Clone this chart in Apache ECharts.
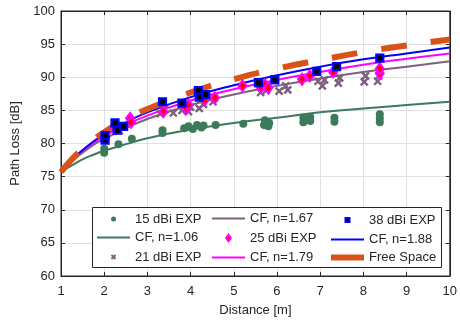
<!DOCTYPE html>
<html>
<head>
<meta charset="utf-8">
<script src="https://cdn.jsdelivr.net/npm/echarts@6/dist/echarts.min.js"></script>
<style>
  html, body { margin: 0; padding: 0; background: #fff; }
  #chart { width: 460px; height: 322px; }
</style>
</head>
<body>
<div id="chart"></div>
<script>
// distances for the fitted curves [m]
const distM = [1, 1.25, 1.5, 1.75, 2, 2.5, 3, 4, 5, 6, 7, 8, 9, 10];
// close-in fits [dB]
const cf106 = [75.7, 76.7, 77.6, 78.3, 78.9, 79.9, 80.8, 82.1, 83.1, 83.9, 84.7, 85.3, 85.8, 86.3];
const cf167 = [75.7, 77.3, 78.6, 79.8, 80.7, 82.3, 83.7, 85.8, 87.4, 88.7, 89.8, 90.8, 91.6, 92.4];
const cf179 = [75.7, 77.4, 78.9, 80.1, 81.1, 82.8, 84.2, 86.5, 88.2, 89.6, 90.8, 91.9, 92.8, 93.6];
const cf188 = [75.7, 77.5, 79.0, 80.3, 81.4, 83.2, 84.7, 87.0, 88.8, 90.3, 91.6, 92.7, 93.6, 94.5];
const freeSpace = [75.7, 77.6, 79.2, 80.6, 81.7, 83.7, 85.2, 87.7, 89.7, 91.3, 92.6, 93.8, 94.8, 95.7];

// measured points [distance, path loss]
const exp15 = [[2.0, 78.6], [2.0, 79.2], [2.33, 79.9], [2.64, 80.7], [3.35, 81.6], [3.35, 82.0],
  [3.85, 82.3], [3.95, 82.6], [4.05, 82.2], [4.15, 82.8], [4.25, 82.4], [4.3, 82.7], [4.58, 82.8],
  [5.22, 83.0], [5.7, 82.8], [5.72, 83.5], [5.82, 83.1], [5.8, 82.6], [6.61, 83.2], [6.61, 83.9],
  [6.77, 83.4], [6.77, 84.0], [7.33, 83.3], [7.33, 83.9], [8.38, 83.2], [8.38, 83.8], [8.38, 84.4]];
const exp21 = [[2.0, 80.7], [2.05, 81.4], [2.35, 81.9], [2.45, 82.6], [3.3, 84.5], [3.4, 85.1],
  [3.6, 84.6], [3.8, 85.0], [3.95, 84.8], [4.0, 85.5], [4.2, 85.3], [4.3, 85.9], [4.52, 86.3],
  [4.55, 86.9], [5.62, 87.7], [5.65, 88.4], [5.75, 88.0], [6.05, 87.9], [6.2, 88.7], [6.25, 88.1],
  [6.95, 89.4], [7.05, 88.7], [7.1, 89.6], [7.42, 89.1], [7.45, 89.9], [8.02, 89.3], [8.05, 90.2],
  [8.33, 89.4], [8.36, 90.2]];
const exp25 = [[2.0, 81.0], [2.25, 82.3], [2.6, 83.8], [2.62, 83.2], [3.37, 84.8], [3.9, 85.3],
  [3.95, 85.8], [4.33, 86.6], [4.56, 86.9], [5.2, 88.7], [5.62, 88.5], [5.72, 88.9], [5.8, 88.4],
  [6.58, 89.7], [6.76, 90.2], [7.3, 90.8], [8.38, 90.6], [8.38, 91.3]];
const exp38 = [[2.02, 80.5], [2.02, 81.2], [2.25, 83.1], [2.3, 82.0], [2.45, 82.6], [3.35, 86.3],
  [3.8, 86.1], [4.18, 88.0], [4.2, 87.0], [4.35, 87.4], [5.57, 89.2], [5.95, 89.6], [6.92, 90.9],
  [7.38, 91.6], [8.38, 92.9]];

const ink = '#262626';
const font = 'Liberation Sans, Arial, Helvetica, sans-serif';
const pair = (ys) => distM.map((d, i) => [d, ys[i]]);

// small legend markers: padded into a 14x14 box so they stay small
const icoCircle = 'path://M0,0M14,14M7,4.5A2.5,2.5 0 1 1 7,9.5A2.5,2.5 0 1 1 7,4.5Z';
const icoX = 'path://M0,0M14,14M5,5L9,9M9,5L5,9';
const icoDiamond = 'path://M0,0M14,14M7,3.8L9.3,7L7,10.2L4.7,7Z';
const icoSquare = 'path://M0,0M14,14M5,5H9V9H5Z';
// line entries: hide the symbol the line legend icon puts in the middle
const noDot = { itemStyle: { opacity: 0 } };

const chart = echarts.init(document.getElementById('chart'), null, { renderer: 'canvas' });

const axisBase = {
  type: 'value',
  axisLine: { show: true, lineStyle: { color: ink, width: 1 } },
  axisTick: { show: true, inside: true, length: 4, lineStyle: { color: ink } },
};

const lineSeries = (name, ys, color) => ({
  name, type: 'line', data: pair(ys), smooth: true, showSymbol: false, symbol: 'none',
  lineStyle: { color, width: 2 }, itemStyle: { color }, z: 2,
});

const legendBase = {
  orient: 'vertical', top: 212, itemWidth: 33, itemHeight: 14, itemGap: 5, padding: 0, z: 5,
  textStyle: { fontSize: 13, color: ink, fontFamily: font },
};

chart.setOption({
  animation: false,
  textStyle: { fontFamily: font, color: ink },
  grid: { left: 61, right: 10, top: 11, bottom: 45, show: true, borderColor: ink, borderWidth: 1 },
  xAxis: [
    Object.assign({}, axisBase, {
      min: 1, max: 10, interval: 1, position: 'bottom',
      name: 'Distance [m]', nameLocation: 'middle', nameGap: 28,
      nameTextStyle: { fontSize: 13, color: ink, fontFamily: font },
      axisLabel: { fontSize: 13, color: ink, margin: 9, fontFamily: font },
      splitLine: { show: true, lineStyle: { color: '#e0e0e0', width: 1 } },
    }),
    Object.assign({}, axisBase, {
      min: 1, max: 10, interval: 1, position: 'top',
      axisLabel: { show: false }, splitLine: { show: false },
    }),
  ],
  yAxis: [
    Object.assign({}, axisBase, {
      min: 60, max: 100, interval: 5, position: 'left',
      name: 'Path Loss [dB]', nameLocation: 'middle', nameGap: 26,
      nameTextStyle: { fontSize: 13, color: ink, fontFamily: font },
      axisLabel: { fontSize: 13, color: ink, margin: 6, fontFamily: font },
      splitLine: { show: true, lineStyle: { color: '#e0e0e0', width: 1 } },
    }),
    Object.assign({}, axisBase, {
      min: 60, max: 100, interval: 5, position: 'right',
      axisLabel: { show: false }, splitLine: { show: false },
    }),
  ],
  graphic: [{
    type: 'rect', left: 92, top: 207, z: 3,
    shape: { width: 349, height: 60 },
    style: { fill: '#fff', stroke: ink, lineWidth: 1 },
  }],
  legend: [
    Object.assign({}, legendBase, {
      left: 96,
      data: [{ name: '15 dBi EXP', icon: icoCircle }, Object.assign({ name: 'CF, n=1.06' }, noDot),
        { name: '21 dBi EXP', icon: icoX }],
    }),
    Object.assign({}, legendBase, {
      left: 211,
      data: [Object.assign({ name: 'CF, n=1.67' }, noDot), { name: '25 dBi EXP', icon: icoDiamond },
        Object.assign({ name: 'CF, n=1.79' }, noDot)],
    }),
    Object.assign({}, legendBase, {
      left: 328,
      // solid, full-width sample for the dashed free-space curve
      lineStyle: { type: 'solid', width: 'inherit' },
      data: [{ name: '38 dBi EXP', icon: icoSquare }, Object.assign({ name: 'CF, n=1.88' }, noDot),
        Object.assign({ name: 'Free Space' }, noDot)],
    }),
  ],
  series: [
    {
      name: '15 dBi EXP', type: 'scatter', data: exp15, symbol: 'circle', symbolSize: 8,
      itemStyle: { color: '#3d7a5c', opacity: 1 }, z: 2,
    },
    lineSeries('CF, n=1.06', cf106, '#3d7a5c'),
    {
      name: '21 dBi EXP', type: 'scatter', data: exp21, symbol: 'path://M0,0L8,8M8,0L0,8', symbolSize: 7,
      itemStyle: { color: '#7e5f7e', borderColor: '#7e5f7e', borderWidth: 2.4, opacity: 1 }, z: 2,
    },
    lineSeries('CF, n=1.67', cf167, '#7e5f7e'),
    {
      name: '25 dBi EXP', type: 'scatter', data: exp25, symbol: 'diamond', symbolSize: [8, 11],
      itemStyle: { color: '#ff0000', borderColor: '#ff00ff', borderWidth: 2, opacity: 1 }, z: 2,
    },
    lineSeries('CF, n=1.79', cf179, '#ff00ff'),
    {
      name: '38 dBi EXP', type: 'scatter', data: exp38, symbol: 'rect', symbolSize: 7,
      itemStyle: { color: '#000000', borderColor: '#0000ff', borderWidth: 2.2, opacity: 1 }, z: 2,
    },
    lineSeries('CF, n=1.88', cf188, '#0000ff'),
    {
      name: 'Free Space', type: 'line', data: pair(freeSpace), smooth: true, showSymbol: false, symbol: 'none',
      lineStyle: { color: '#d95319', width: 6, type: [26, 24], cap: 'butt' },
      itemStyle: { color: '#d95319' }, z: 2,
    },
  ],
});
</script>
</body>
</html>
